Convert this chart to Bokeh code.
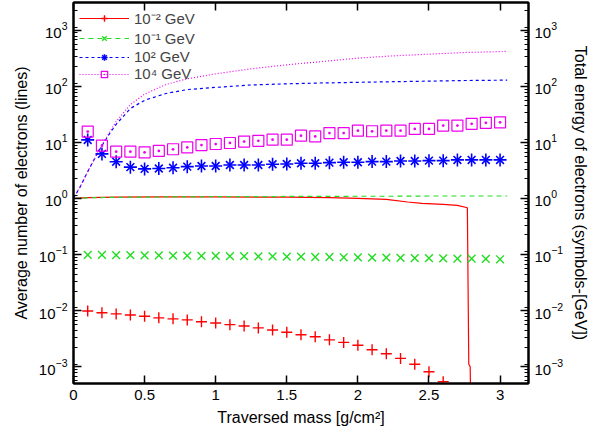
from bokeh.plotting import figure
from bokeh.models import (Range1d, LogAxis, LinearAxis, FixedTicker, LogTicker,
                          NumeralTickFormatter, Legend, LegendItem)
from bokeh.embed import file_html
from bokeh.resources import INLINE

# line samples: traversed mass [g/cm^2] and average number of electrons
line_x = [0.0, 0.05, 0.1, 0.15, 0.2, 0.25, 0.3, 0.4, 0.5, 0.65, 0.8, 1.0,
          1.25, 1.5, 1.75, 2.0, 2.25, 2.5, 2.75, 3.05]
n_1e4 = [1.0, 1.66, 3.0, 5.2, 8.9, 14.5, 23.4, 47, 72, 107, 135, 166,
         204, 240, 275, 316, 347, 372, 398, 417]
n_1e2 = [1.0, 1.66, 3.0, 5.2, 8.7, 13.8, 20.9, 40, 56, 74, 87, 95,
         105, 110, 114, 117, 120, 123, 126, 128]
n_1e_1 = [1.0, 1.01, 1.02, 1.03, 1.03, 1.04, 1.04, 1.05, 1.05, 1.06, 1.06, 1.07,
          1.07, 1.08, 1.08, 1.09, 1.09, 1.10, 1.10, 1.10]
red_x = [0.0, 0.1, 0.3, 0.6, 1.0, 1.5, 1.8, 2.0, 2.2, 2.35, 2.45, 2.6, 2.7,
         2.77, 2.78, 2.79, 2.80]
n_1e_2 = [1.0, 1.03, 1.05, 1.06, 1.06, 1.05, 1.03, 1.0, 0.96, 0.86, 0.81, 0.78, 0.75,
          0.68, 0.0011, 0.0010, 0.00001]

# symbols: total energy of electrons [GeV]
sym_x = [0.1, 0.2, 0.3, 0.4, 0.5, 0.6, 0.7, 0.8, 0.9, 1.0, 1.1, 1.2, 1.3, 1.4, 1.5,
         1.6, 1.7, 1.8, 1.9, 2.0, 2.1, 2.2, 2.3, 2.4, 2.5, 2.6, 2.7, 2.8, 2.9, 3.0]
e_1e_2 = [0.0098, 0.0091, 0.0087, 0.0083, 0.0079, 0.0074, 0.0071, 0.0068, 0.0063,
          0.0060, 0.0056, 0.0053, 0.0049, 0.0045, 0.0041, 0.0037, 0.0034, 0.0030,
          0.0027, 0.0024, 0.0020, 0.0017, 0.0014, 0.0011, 0.00081, 0.00054]
e_1e_1 = [0.098, 0.098, 0.097, 0.097, 0.096, 0.096, 0.095, 0.095, 0.094, 0.094,
          0.093, 0.093, 0.092, 0.092, 0.091, 0.091, 0.090, 0.090, 0.089, 0.089,
          0.088, 0.088, 0.087, 0.086, 0.086, 0.085, 0.084, 0.084, 0.083, 0.082]
e_1e2 = [11.0, 6.2, 4.5, 3.6, 3.35, 3.4, 3.5, 3.67, 3.77, 3.77, 3.93, 3.93, 3.93,
         4.05, 4.1, 4.22, 4.22, 4.33, 4.4, 4.4, 4.52, 4.52, 4.64, 4.64, 4.7, 4.7,
         4.84, 4.84, 4.84, 4.84]
e_1e4 = [15.5, 8.7, 6.8, 6.8, 6.6, 7.0, 7.5, 8.1, 8.9, 9.3, 9.7, 10.3, 10.6, 11.1,
         11.1, 13.1, 12.7, 14.6, 14.6, 16.1, 15.7, 16.1, 16.1, 17.3, 17.3, 19.8,
         19.8, 21.3, 22.2, 22.7]

labels = ["10\u207b\u00b2 GeV", "10\u207b\u00b9 GeV", "10\u00b2 GeV", "10\u2074 GeV"]
x_ticks = [0, 0.5, 1, 1.5, 2, 2.5, 3]

FONT = "Liberation Sans"
RED, GREEN, BLUE, MAGENTA = "#ff0000", "#22dd22", "#0000ff", "#ee00ee"

p = figure(width=592, height=428, y_axis_type="log",
           x_range=Range1d(0, 3.2), y_range=Range1d(5.0e-4, 3.1e3),
           output_backend="svg", toolbar_location=None,
           min_border_left=73, min_border_right=62, min_border_top=2,
           min_border_bottom=10)
p.grid.visible = False
p.outline_line_color = "black"
p.outline_line_width = 2
p.background_fill_color = "white"

# lines
r_red = p.line(red_x, n_1e_2, color=RED, line_width=1.2)
r_grn = p.line(line_x, n_1e_1, color=GREEN, line_width=1.2, line_dash="5 4")
r_blu = p.line(line_x, n_1e2, color=BLUE, line_width=1.2, line_dash="3 3")
r_mag = p.line(line_x, n_1e4, color=MAGENTA, line_width=1.2, line_dash="1 2")

# symbols
m_red = p.scatter(sym_x[:len(e_1e_2)], e_1e_2, marker="cross", size=11,
                  line_color=RED, line_width=1.4)
m_grn = p.scatter(sym_x, e_1e_1, marker="x", size=11, line_color=GREEN, line_width=1.4)
m_blu1 = p.scatter(sym_x, e_1e2, marker="cross", size=13, line_color=BLUE, line_width=1.6)
m_blu2 = p.scatter(sym_x, e_1e2, marker="x", size=11, line_color=BLUE, line_width=1.6)
m_mag = p.scatter(sym_x, e_1e4, marker="square_dot", size=11, fill_color=None,
                  line_color=MAGENTA, line_width=1.2)

# axes
xa = p.xaxis[0]
xa.ticker = FixedTicker(ticks=x_ticks, minor_ticks=[])
xa.formatter = NumeralTickFormatter(format="0.[0]")
xa.axis_label = "Traversed mass [g/cm\u00b2]"

ya = p.yaxis[0]
ya.ticker = LogTicker(num_minor_ticks=9)
ya.axis_label = "Average number of electrons (lines)"

top = LinearAxis(ticker=FixedTicker(ticks=x_ticks, minor_ticks=[]),
                 major_label_text_color=None)
right = LogAxis(ticker=LogTicker(num_minor_ticks=9),
                axis_label="Total energy of electrons (symbols-[GeV])")
p.add_layout(top, "above")
p.add_layout(right, "right")

for ax in [xa, ya, top, right]:
    ax.axis_line_width = 2
    ax.axis_line_color = "black"
    ax.major_tick_in = 8
    ax.major_tick_out = 0
    ax.minor_tick_in = 4
    ax.minor_tick_out = 0
    ax.major_tick_line_width = 1.5
    ax.minor_tick_line_width = 1.2
    ax.major_label_text_font = FONT
    ax.axis_label_text_font = FONT
    ax.axis_label_text_font_style = "normal"
    ax.axis_label_text_font_size = "16px"
    ax.axis_label_text_color = "black"
    ax.axis_label_standoff = 6
for ax in [xa, ya, right]:
    ax.major_label_text_color = "black"
    ax.major_label_text_font_size = "15px"
    ax.major_label_standoff = 6
top.major_label_standoff = 0

legend = Legend(items=[
    LegendItem(label=labels[0], renderers=[r_red, m_red]),
    LegendItem(label=labels[1], renderers=[r_grn, m_grn]),
    LegendItem(label=labels[2], renderers=[r_blu, m_blu1, m_blu2]),
    LegendItem(label=labels[3], renderers=[r_mag, m_mag]),
], location="top_left")
legend.label_text_font = FONT
legend.label_text_font_size = "15px"
legend.glyph_width = 50
legend.glyph_height = 16
legend.spacing = 0
legend.padding = 2
legend.margin = 6
legend.border_line_color = None
legend.background_fill_alpha = 0
p.add_layout(legend)

open("out.html", "w").write(file_html(p, INLINE))
